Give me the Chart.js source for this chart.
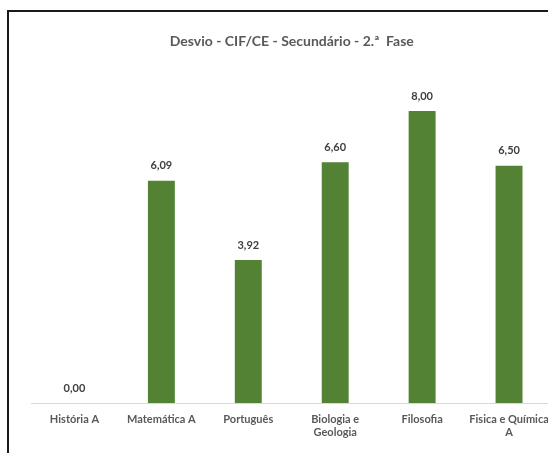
<!DOCTYPE html>
<html>
<head>
<meta charset="utf-8">
<script src="https://cdn.jsdelivr.net/npm/chart.js@4"></script>
<style>
    html, body { margin: 0; padding: 0; background: #fff; overflow: hidden; width: 548px; height: 453px; }
    .moldura { position: absolute; left: 7px; top: 10px; width: 600px; height: 500px; border: 2px solid #1a1a1a; background: #fff; }
    .moldura canvas { position: absolute; left: 0; top: 0; }
</style>
</head>
<body>
<div class="moldura">
    <canvas id="grafico" width="560" height="441"></canvas>
</div>
<script>
    // Dados do gráfico
    var disciplinas = ['História A', 'Matemática A', 'Português', ['Biologia e', 'Geologia'], 'Filosofia', ['Fisica e Química', 'A']];
    var desvios = [0.00, 6.09, 3.92, 6.60, 8.00, 6.50];
    var titulo = 'Desvio - CIF/CE - Secundário - 2.ª  Fase';

    var FONTE = 'Lato, "Open Sans", sans-serif';

    // Escreve o valor (com vírgula) por cima de cada barra
    var rotulosBarras = {
        id: 'rotulosBarras',
        afterDatasetsDraw: function (chart) {
            var ctx = chart.ctx;
            var meta = chart.getDatasetMeta(0);
            ctx.save();
            ctx.font = 'bold 11px ' + FONTE;
            ctx.fillStyle = '#404040';
            ctx.textAlign = 'center';
            ctx.textBaseline = 'middle';
            meta.data.forEach(function (barra, i) {
                ctx.fillText(desvios[i].toFixed(2).replace('.', ','), barra.x, barra.y - 15);
            });
            ctx.restore();
        }
    };

    new Chart(document.getElementById('grafico'), {
        type: 'bar',
        data: {
            labels: disciplinas,
            datasets: [{
                data: desvios,
                backgroundColor: '#548235',
                borderWidth: 0,
                categoryPercentage: 1,
                barPercentage: 0.31
            }]
        },
        options: {
            responsive: false,
            animation: false,
            layout: { padding: { left: 22, right: 16.5, top: 0, bottom: 0 } },
            plugins: {
                legend: { display: false },
                tooltip: { enabled: false },
                title: {
                    display: true,
                    text: titulo,
                    color: '#595959',
                    font: { family: FONTE, size: 14, weight: 'bold', lineHeight: 1.2 },
                    padding: { top: 20.6, bottom: 25.2 }
                }
            },
            scales: {
                x: {
                    grid: { display: false, drawTicks: false },
                    border: { display: true, color: '#d9d9d9', width: 1 },
                    ticks: {
                        color: '#595959',
                        padding: 10,
                        maxRotation: 0,
                        autoSkip: false,
                        font: { family: FONTE, size: 11, weight: 'bold', lineHeight: 1.2 }
                    },
                    afterFit: function (escala) { escala.height = 50; }
                },
                y: {
                    display: false,
                    min: 0,
                    max: 9
                }
            }
        },
        plugins: [rotulosBarras]
    });
</script>
</body>
</html>
